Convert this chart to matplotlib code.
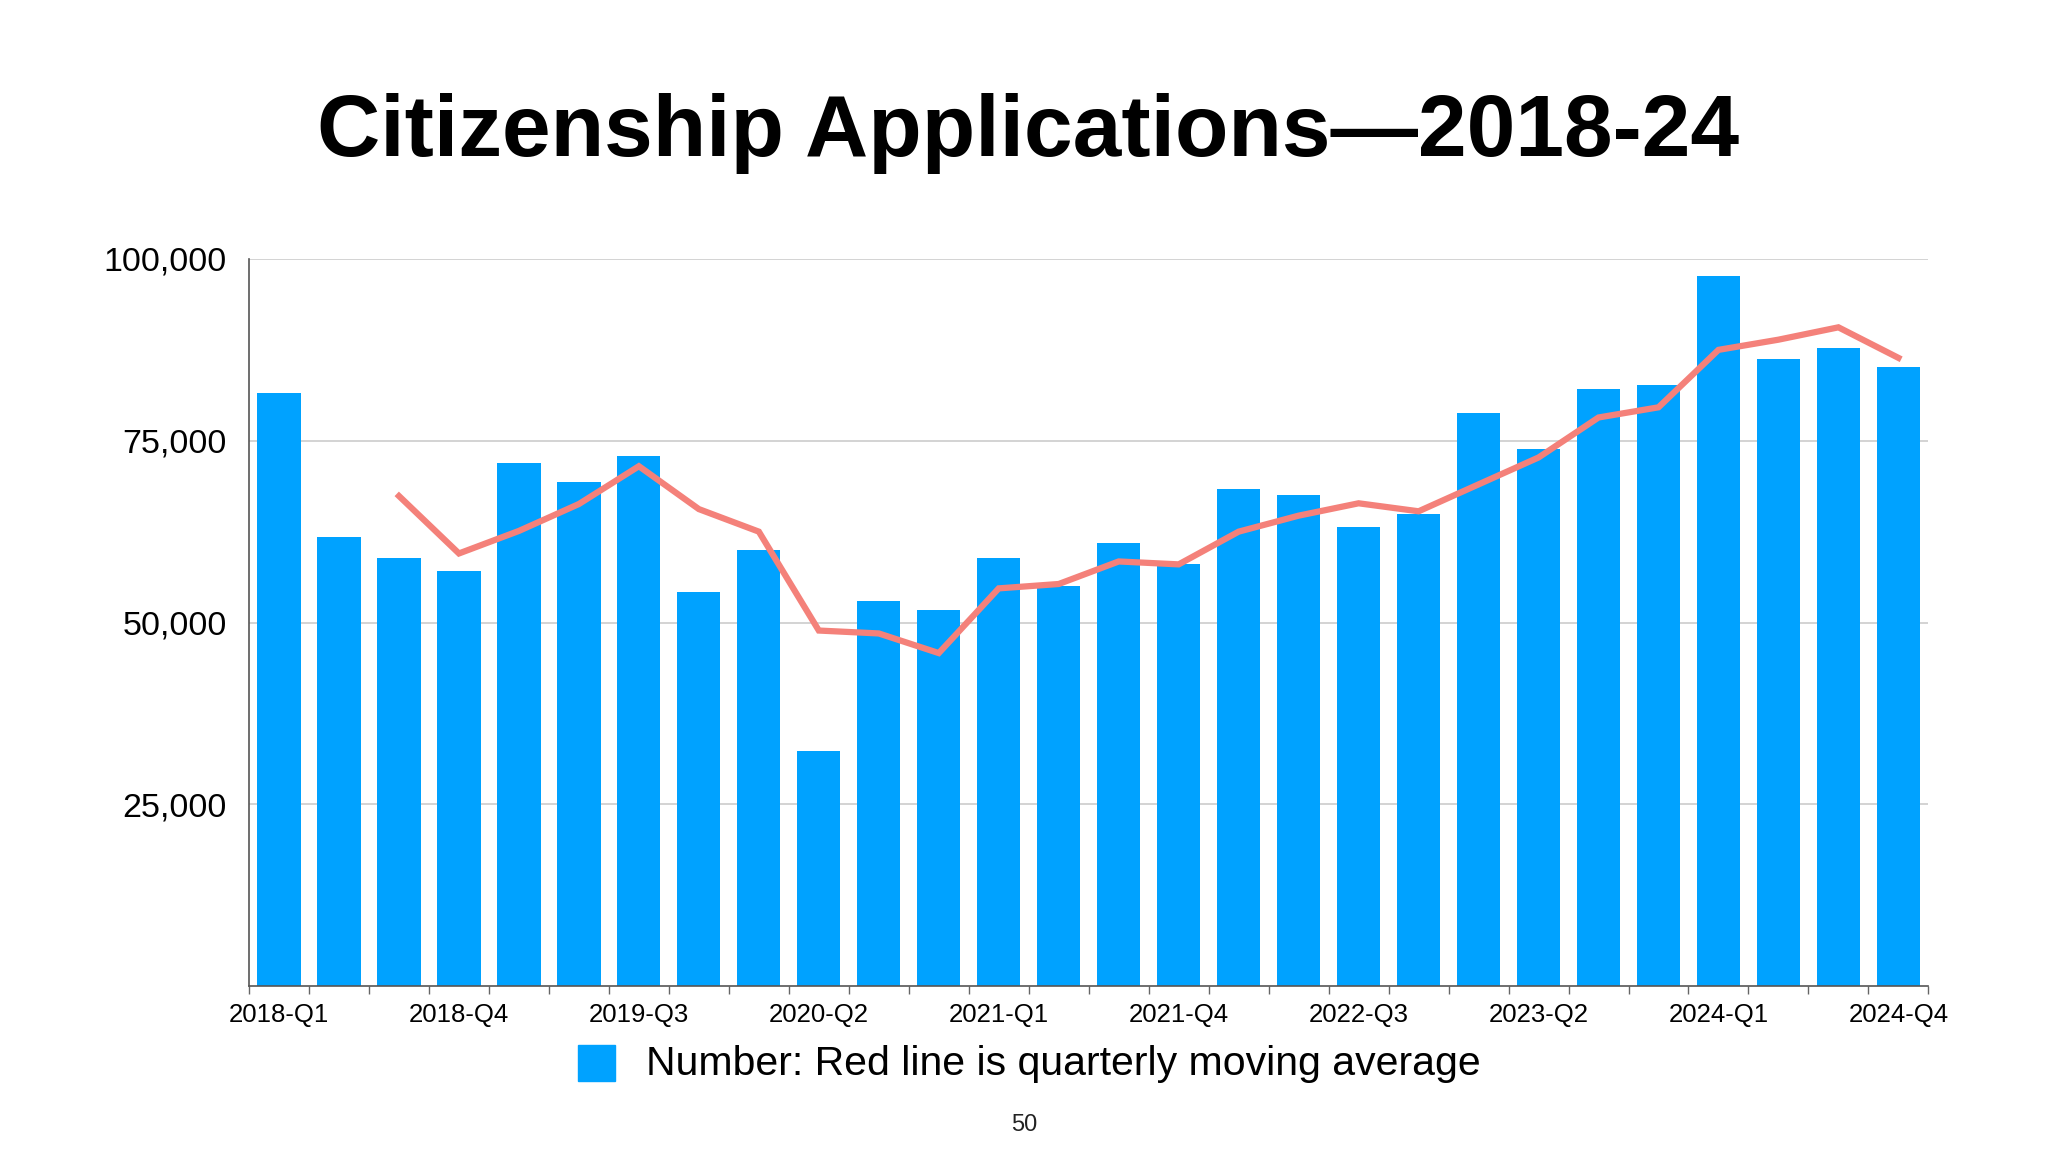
import numpy as np
import matplotlib
matplotlib.use('Agg')
from matplotlib import pyplot as plt
from matplotlib.patches import Rectangle

plt.rcParams['font.family'] = ['Liberation Sans', 'DejaVu Sans']

quarters = [f'{y}-Q{q}' for y in range(2018, 2025) for q in range(1, 5)]
applications = [81500, 61800, 58900, 57100, 72000, 69300, 72900, 54200,
                60000, 32300, 53000, 51700, 58900, 55000, 60900, 58000,
                68300, 67600, 63200, 64900, 78800, 73900, 82100, 82700,
                97600, 86300, 87700, 85100]
moving_avg = [np.nan, np.nan, 67400, 59500, 62600, 66300, 71500, 65600,
              62500, 48900, 48500, 45800, 54700, 55300, 58400, 58000,
              62500, 64700, 66400, 65300, 69000, 72700, 78200, 79600,
              87500, 88900, 90600, 86400]
yticks = [25000, 50000, 75000, 100000]

fig = plt.figure(figsize=(20.48, 11.52), dpi=100)
ax = fig.add_axes([0.1216, 0.1440, 0.8200, 0.6312])

x = np.arange(len(quarters))
ax.bar(x, applications, width=0.72, color='#00A2FF', zorder=2)
ax.plot(x, moving_avg, color='#F4817A', lw=4.5, zorder=3, solid_joinstyle='miter')

ax.set_xlim(-0.5, len(quarters) - 0.5)
ax.set_ylim(0, 100000)
ax.set_yticks(yticks)
ax.set_yticklabels([f'{v:,}' for v in yticks], fontsize=24.5)
ax.tick_params(axis='y', length=0, pad=16)
ax.grid(axis='y', color='#CCCCCC', lw=1.2, zorder=0)

# ticks at bar boundaries, labels every third quarter
ax.set_xticks(np.arange(-0.5, len(quarters), 1.0))
ax.set_xticklabels([])
ax.tick_params(axis='x', which='major', length=6, color='#666666', width=1)
ax.set_xticks(x[::3], minor=True)
ax.set_xticklabels(quarters[::3], minor=True, fontsize=18.5)
ax.tick_params(axis='x', which='minor', length=0, pad=12)

for s in ['top', 'right']:
    ax.spines[s].set_visible(False)
for s in ['left', 'bottom']:
    ax.spines[s].set_color('#555555')
    ax.spines[s].set_linewidth(1.2)

fig.text(0.502, 0.884, 'Citizenship Applications\u20142018-24', ha='center', va='center',
         fontsize=63, fontweight='bold')

fig.add_artist(Rectangle((578 / 2048, 1 - 1081 / 1152), 37 / 2048, 36 / 1152,
                         transform=fig.transFigure, color='#00A2FF'))
fig.text(646 / 2048, 1 - 1064 / 1152, 'Number: Red line is quarterly moving average',
         ha='left', va='center', fontsize=29.5)
fig.text(0.5, 1 - 1125 / 1152, '50', ha='center', va='center', fontsize=17, color='#222222')

fig.savefig('out.png', dpi=100)
